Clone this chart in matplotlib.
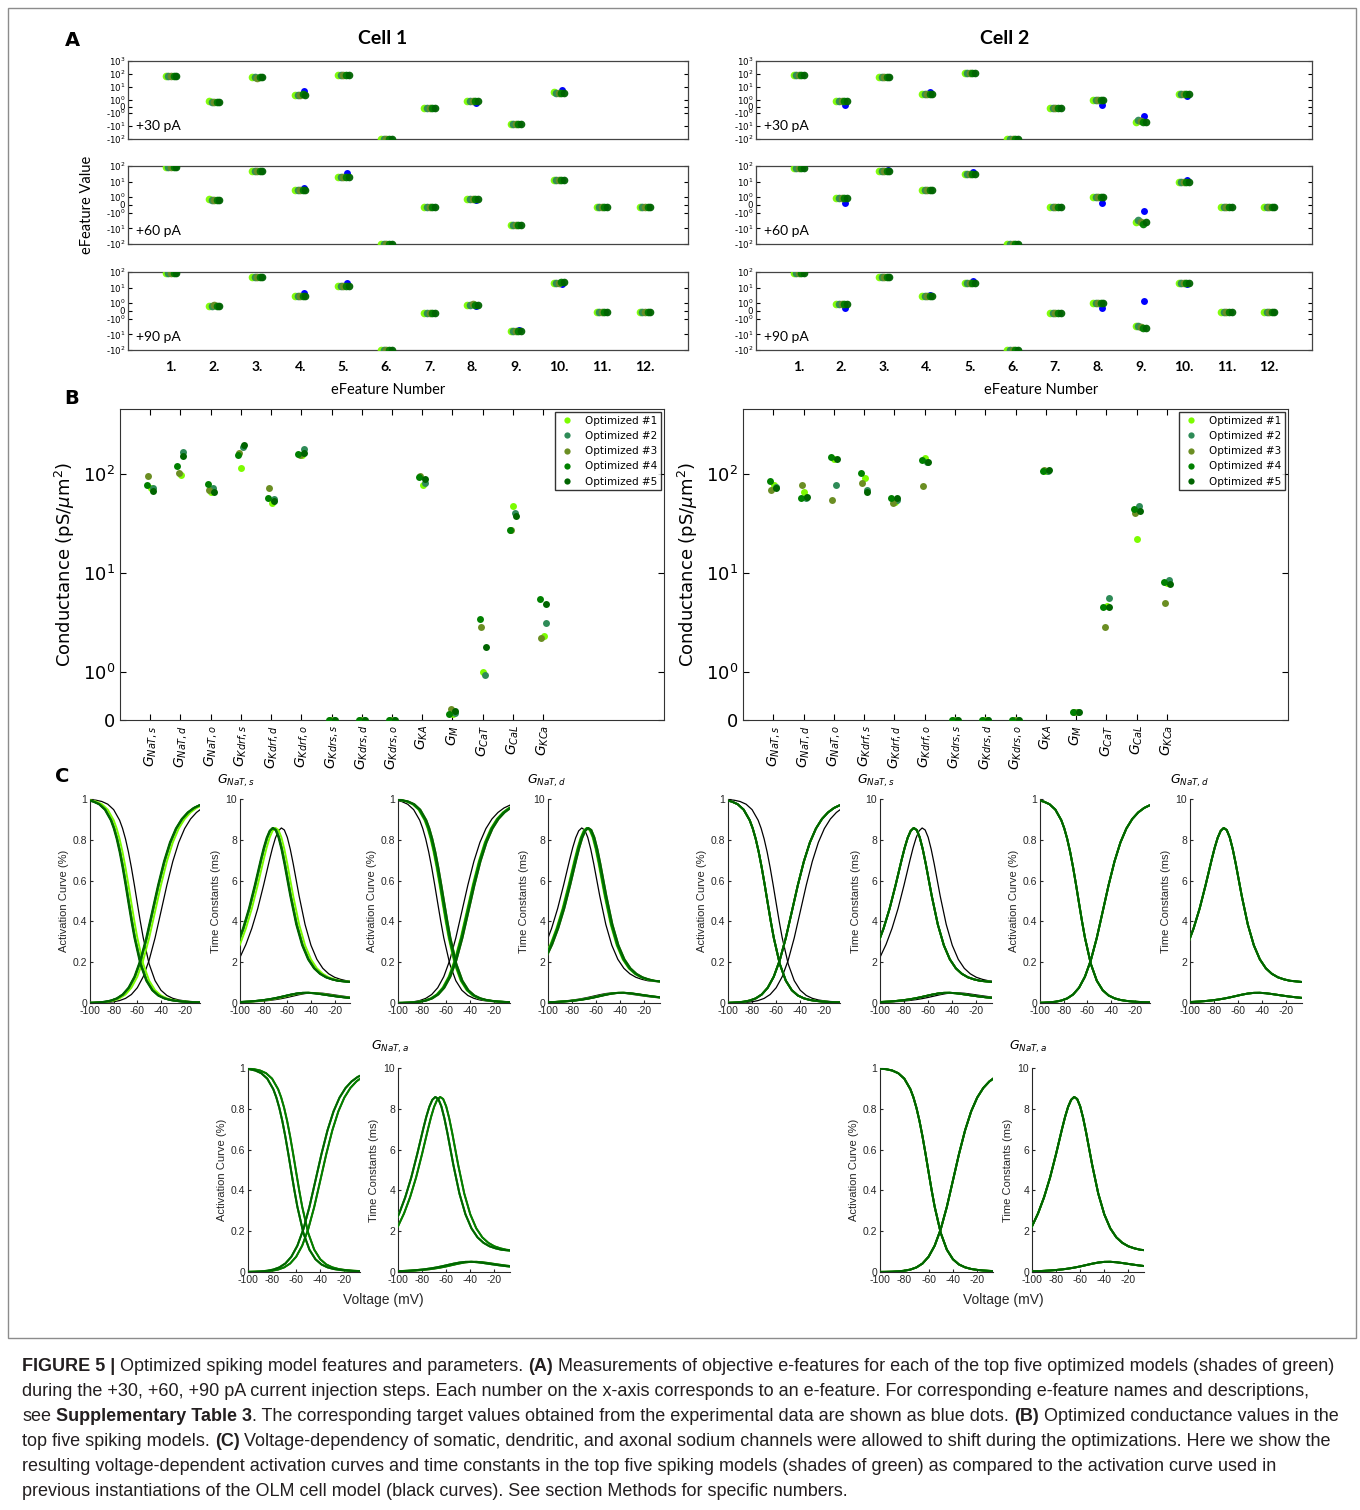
import numpy as np
import matplotlib
matplotlib.use('Agg')
import matplotlib.pyplot as plt
from matplotlib import font_manager as fm
from matplotlib.ticker import NullLocator
from matplotlib.patches import Rectangle

nan = np.nan

# ---------------- data ----------------
feature_labels = ['1.', '2.', '3.', '4.', '5.', '6.', '7.', '8.', '9.', '10.', '11.', '12.']
current_labels = ['+30 pA', '+60 pA', '+90 pA']
model_names = ['Optimized #1', 'Optimized #2', 'Optimized #3', 'Optimized #4', 'Optimized #5']

# panel A, cell 1: target (blue) and optimized models #1-#5
c1_p30_target = [75, 0.7, 60, 5, 80, -100, -0.3, 0.6, -7, 5.5, nan, nan]
c1_p30_models = [
    [75, 0.8, 55, 2.6, 85, -100, -0.3, 0.8, -7, 4.0, nan, nan],
    [75, 0.7, 55, 2.6, 85, -100, -0.3, 0.8, -7, 3.5, nan, nan],
    [72, 0.7, 52, 2.5, 80, -100, -0.3, 0.9, -7, 3.5, nan, nan],
    [75, 0.7, 55, 2.7, 85, -100, -0.3, 0.8, -7, 3.5, nan, nan],
    [72, 0.7, 55, 2.6, 80, -100, -0.3, 0.8, -7, 3.2, nan, nan],
]
c1_p60_target = [85, 0.6, 50, 4, 35, -100, -0.3, 0.6, -6, 12, -0.25, -0.25]
c1_p60_models = [
    [85, 0.8, 50, 2.8, 20, -100, -0.3, 0.8, -6, 12, -0.25, -0.25],
    [85, 0.7, 50, 2.8, 20, -100, -0.3, 0.8, -6, 12, -0.25, -0.25],
    [85, 0.7, 50, 2.7, 20, -100, -0.3, 0.8, -6, 12, -0.25, -0.25],
    [85, 0.7, 50, 2.8, 20, -100, -0.3, 0.8, -6, 12, -0.25, -0.25],
    [85, 0.7, 50, 2.8, 20, -100, -0.3, 0.8, -6, 12, -0.25, -0.25],
]
c1_p90_target = [90, 0.6, 50, 4.5, 20, -100, -0.3, 0.6, -5, 18, -0.1, -0.15]
c1_p90_models = [
    [90, 0.7, 50, 2.8, 13, -100, -0.3, 0.8, -6, 20, -0.1, -0.15],
    [90, 0.7, 50, 2.8, 13, -100, -0.3, 0.8, -6, 20, -0.1, -0.15],
    [90, 0.8, 50, 2.8, 13, -100, -0.25, 0.9, -6, 20, -0.1, -0.15],
    [90, 0.7, 50, 2.8, 13, -100, -0.3, 0.8, -6, 22, -0.1, -0.15],
    [90, 0.7, 50, 2.8, 13, -100, -0.3, 0.8, -6, 22, -0.1, -0.15],
]
# panel A, cell 2
c2_p30_target = [80, 0.3, 60, 4, 120, -100, -0.3, 0.3, -1.8, 2, nan, nan]
c2_p30_models = [
    [80, 0.8, 55, 3, 120, -100, -0.3, 1.0, -5, 3, nan, nan],
    [80, 0.8, 55, 3, 120, -100, -0.3, 1.0, -3.5, 3, nan, nan],
    [80, 0.8, 55, 3, 120, -100, -0.3, 1.0, -4, 3, nan, nan],
    [80, 0.9, 55, 3, 120, -100, -0.3, 1.0, -5, 3, nan, nan],
    [80, 0.9, 55, 3, 120, -100, -0.3, 1.0, -5, 3, nan, nan],
]
c2_p60_target = [80, 0.3, 55, 3, 40, -100, -0.3, 0.3, -0.8, 12, -0.25, -0.25]
c2_p60_models = [
    [75, 0.9, 50, 3, 30, -100, -0.3, 1.0, -4, 10, -0.25, -0.25],
    [75, 0.9, 50, 3, 30, -100, -0.3, 1.0, -3, 10, -0.25, -0.25],
    [75, 0.9, 50, 3, 30, -100, -0.3, 1.0, -4, 10, -0.25, -0.25],
    [75, 0.9, 50, 3, 30, -100, -0.3, 1.0, -5, 10, -0.25, -0.25],
    [75, 0.9, 50, 3, 30, -100, -0.3, 1.0, -4, 10, -0.25, -0.25],
]
c2_p90_target = [85, 0.4, 50, 3.5, 25, -100, -0.3, 0.4, 1.3, 18, -0.1, -0.15]
c2_p90_models = [
    [85, 0.9, 50, 3, 20, -100, -0.3, 1.0, -3, 20, -0.1, -0.15],
    [85, 0.9, 50, 3, 20, -100, -0.3, 1.0, -3, 20, -0.1, -0.15],
    [85, 0.9, 50, 3, 20, -100, -0.3, 1.0, -3.5, 20, -0.1, -0.15],
    [85, 0.9, 50, 3, 20, -100, -0.3, 1.0, -4, 20, -0.1, -0.15],
    [85, 0.9, 50, 3, 20, -100, -0.3, 1.0, -4, 20, -0.1, -0.15],
]

# panel B: conductances (pS/um^2), optimized models #1-#5
channels = [r'$G_{NaT,s}$', r'$G_{NaT,d}$', r'$G_{NaT,o}$', r'$G_{Kdrf,s}$', r'$G_{Kdrf,d}$',
            r'$G_{Kdrf,o}$', r'$G_{Kdrs,s}$', r'$G_{Kdrs,d}$', r'$G_{Kdrs,o}$', r'$G_{KA}$',
            r'$G_{M}$', r'$G_{CaT}$', r'$G_{CaL}$', r'$G_{KCa}$']
b_cell1 = [
    [72, 98, 66, 115, 50, 155, 0, 0, 0, 76, 0.12, 1.0, 47, 2.3],
    [72, 165, 72, 188, 55, 177, 0, 0, 0, 80, 0.15, 0.94, 40, 3.1],
    [94, 102, 68, 162, 72, 155, 0, 0, 0, 95, 0.22, 2.85, 27, 2.2],
    [77, 120, 78, 155, 57, 159, 0, 0, 0, 92, 0.12, 3.4, 27, 5.4],
    [67, 150, 66, 196, 53, 162, 0, 0, 0, 88, 0.19, 1.77, 37, 4.8],
]
b_cell2 = [
    [76, 65, 139, 90, 52, 144, 0, 0, 0, 107, 0.17, 4.6, 22, 7.8],
    [73, 57, 77, 69, 54, 132, 0, 0, 0, 107, 0.17, 5.5, 47, 8.4],
    [68, 76, 54, 81, 50, 75, 0, 0, 0, 110, 0.17, 2.8, 40, 4.9],
    [84, 57, 148, 101, 57, 136, 0, 0, 0, 107, 0.17, 4.5, 44, 8.0],
    [72, 58, 142, 66, 57, 132, 0, 0, 0, 108, 0.17, 4.5, 42, 7.6],
]

# panel C: reference sodium kinetics
v_m = [-110, -105, -100, -95, -90, -85, -80, -75, -70, -65, -60, -55, -50, -45, -40,
       -35, -30, -25, -20, -15, -10, -5, 0, 5]
m_inf = [0.0001, 0.0002, 0.0004, 0.0008, 0.0016, 0.0032, 0.0062, 0.0119, 0.0225, 0.0417,
         0.0749, 0.129, 0.210, 0.319, 0.448, 0.578, 0.694, 0.787, 0.855, 0.902, 0.934,
         0.956, 0.970, 0.979]
tau_m = [0.018, 0.024, 0.032, 0.042, 0.056, 0.073, 0.097, 0.127, 0.166, 0.214, 0.273,
         0.340, 0.407, 0.463, 0.496, 0.500, 0.478, 0.440, 0.396, 0.353, 0.313, 0.279,
         0.250, 0.225]
v_h = [-110, -105, -100, -95, -90, -85, -80, -75, -72.5, -70, -67.5, -65, -62.5, -60,
       -57.5, -55, -50, -45, -40, -35, -30, -25, -20, -15, -10, -5, 0, 5]
h_inf = [0.9994, 0.9987, 0.9972, 0.9942, 0.9878, 0.9746, 0.9478, 0.8962, 0.8564, 0.8046,
         0.7402, 0.6639, 0.5786, 0.4890, 0.401, 0.3199, 0.1912, 0.1095, 0.0626, 0.0369,
         0.0229, 0.0149, 0.0103, 0.0073, 0.0054, 0.0041, 0.0031, 0.0024]
tau_h = [1.36, 1.75, 2.24, 2.87, 3.66, 4.63, 5.79, 7.03, 7.61, 8.10, 8.44, 8.58, 8.48,
         8.12, 7.54, 6.82, 5.24, 3.85, 2.83, 2.14, 1.70, 1.43, 1.26, 1.16, 1.09, 1.06,
         1.03, 1.02]
# voltage shifts (mV) of the black reference and of optimized #1-#5
nats_ref_shift = 0
nats_c1_shifts = [-5, -7, -7, -7, -7.5]
nats_c2_shifts = [-7, -7, -7, -7, -7]
natd_ref_shift = -7
natd_c1_shifts = [-3, -2.5, -1.5, -2.5, -1.5]
natd_c2_shifts = [-7, -7, -7, -7, -7]
nata_ref_shift = 0
nata_c1_shifts = [-4, -4, 0, 0, -4]
nata_c2_shifts = [0, 0, 0, 0, 0]

# ---------------- style ----------------
model_colors = ['#7cfc00', '#2e8b57', '#6b8e23', '#008000', '#006400']
target_color = '#0000ff'
a_offsets = [-0.12, -0.06, 0.0, 0.06, 0.12]
b_offsets = [0.02, 0.08, -0.06, -0.1, 0.1]

W, H = 1360, 1510
fig = plt.figure(figsize=(W / 100, H / 100), dpi=100)
fig.patch.set_facecolor('white')


def px_axes(x0, y0, x1, y1):
    return fig.add_axes([x0 / W, 1 - y1 / H, (x1 - x0) / W, (y1 - y0) / H])


def fig_text(x, y, s, **kw):
    return fig.text(x / W, 1 - y / H, s, **kw)


fig.add_artist(Rectangle((8 / W, 1 - 1338 / H), (1356 - 8) / W, (1338 - 8) / H,
                         transform=fig.transFigure, fill=False, ec='#8c8c8c', lw=1.0))

lab_font = 'Lato'

# ---------------- panel A ----------------
fig_text(72, 40, 'A', fontsize=14, fontweight='bold', ha='center', va='center')
fig_text(383, 39, 'Cell 1', fontsize=14, fontweight='bold', ha='center', va='center', family=lab_font)
fig_text(1005, 39, 'Cell 2', fontsize=14, fontweight='bold', ha='center', va='center', family=lab_font)

a_rows = [(61, 139), (166, 244), (272, 350)]
a_cols = [(128, 688), (756, 1312)]
a_xlabel_x = [388, 1041]
a_data = [
    [(c1_p30_target, c1_p30_models), (c1_p60_target, c1_p60_models), (c1_p90_target, c1_p90_models)],
    [(c2_p30_target, c2_p30_models), (c2_p60_target, c2_p60_models), (c2_p90_target, c2_p90_models)],
]
xf = np.arange(1, len(feature_labels) + 1)
for ci, (x0, x1) in enumerate(a_cols):
    for ri, (y0, y1) in enumerate(a_rows):
        ax = px_axes(x0, y0, x1, y1)
        target, models = a_data[ci][ri]
        ax.plot(xf + 0.08, target, 'o', color=target_color, ms=5, mec='none', zorder=2)
        for k, vals in enumerate(models):
            ax.plot(xf + a_offsets[k], vals, 'o', color=model_colors[k], ms=5.5, mec='none',
                    alpha=0.95, zorder=3)
        ax.set_yscale('symlog', linthresh=1, linscale=0.45)
        if ri == 0:
            ax.set_ylim(-100, 1000)
            ticks = [1000, 100, 10, 1, 0, -1, -10, -100]
            labels = [r'$10^3$', r'$10^2$', r'$10^1$', r'$10^0$', '0', r'-$10^0$', r'-$10^1$', r'-$10^2$']
        else:
            ax.set_ylim(-100, 100)
            ticks = [100, 10, 1, 0, -1, -10, -100]
            labels = [r'$10^2$', r'$10^1$', r'$10^0$', '0', r'-$10^0$', r'-$10^1$', r'-$10^2$']
        ax.set_yticks(ticks)
        ax.set_yticklabels(labels)
        ax.yaxis.set_minor_locator(NullLocator())
        ax.set_xlim(0, 13)
        ax.set_xticks(xf)
        ax.tick_params(axis='y', direction='in', right=True, length=3, labelsize=6.2, pad=2)
        ax.tick_params(axis='x', direction='in', top=False, length=0)
        if ri == 2:
            ax.set_xticklabels(feature_labels, fontsize=10, fontweight='bold', family=lab_font)
            ax.tick_params(axis='x', pad=8)
        else:
            ax.set_xticklabels([])
        for sp in ax.spines.values():
            sp.set_color('#444444')
            sp.set_linewidth(0.9)
        ax.text(0.015, 0.17, current_labels[ri], transform=ax.transAxes, fontsize=10,
                family=lab_font, ha='left', va='center')
    fig_text(a_xlabel_x[ci], 390, 'eFeature Number', fontsize=10.5, family=lab_font,
             ha='center', va='center')
fig_text(87, 205, 'eFeature Value', fontsize=10.5, family=lab_font, rotation=90,
         ha='center', va='center')

# ---------------- panel B ----------------
fig_text(72, 398, 'B', fontsize=14, fontweight='bold', ha='center', va='center')
b_cols = [(120, 664), (743, 1288)]
xc = np.arange(1, len(channels) + 1)
for ci, (x0, x1) in enumerate(b_cols):
    ax = px_axes(x0, 409, x1, 720)
    cell = [b_cell1, b_cell2][ci]
    for k, vals in enumerate(cell):
        ax.plot(xc + b_offsets[k], vals, 'o', color=model_colors[k], ms=5, mec='none',
                label=model_names[k], zorder=3)
    ax.set_yscale('symlog', linthresh=1, linscale=0.44)
    ax.set_ylim(0, 450)
    ax.set_yticks([0, 1, 10, 100])
    ax.set_yticklabels(['0', r'$10^0$', r'$10^1$', r'$10^2$'])
    ax.yaxis.set_minor_locator(NullLocator())
    ax.set_xlim(0, 18)
    ax.set_xticks(xc)
    ax.set_xticklabels(channels, rotation=90, fontsize=10)
    ax.tick_params(direction='in', top=True, right=True, length=4, labelsize=13)
    ax.tick_params(axis='x', labelsize=10)
    ax.set_ylabel(r'Conductance (pS/$\mu$m$^2$)', fontsize=13)
    for sp in ax.spines.values():
        sp.set_color('#333333')
    leg = ax.legend(loc='upper right', fontsize=7.5, frameon=True, fancybox=False,
                    borderaxespad=0.3, handletextpad=0.9, markerscale=0.9, numpoints=1,
                    borderpad=0.35, labelspacing=0.5, handlelength=1.6)
    leg.get_frame().set_edgecolor('black')
    leg.get_frame().set_linewidth(1.0)

# ---------------- panel C ----------------
fig_text(62, 776, 'C', fontsize=14, fontweight='bold', ha='center', va='center')
c_font = 'Liberation Sans'


def c_pair(act_box, tau_box, ref_shift, shifts, title, title_xy, xlabel_xy=None):
    axa = px_axes(*act_box)
    axt = px_axes(*tau_box)
    ref_x_m = np.array(v_m) + ref_shift
    ref_x_h = np.array(v_h) + ref_shift
    axa.plot(ref_x_m, m_inf, color='black', lw=0.9, zorder=2)
    axa.plot(ref_x_h, h_inf, color='black', lw=0.9, zorder=2)
    axt.plot(ref_x_m, tau_m, color='black', lw=0.9, zorder=2)
    axt.plot(ref_x_h, tau_h, color='black', lw=0.9, zorder=2)
    for k, s in enumerate(shifts):
        xm = np.array(v_m) + s
        xh = np.array(v_h) + s
        axa.plot(xm, m_inf, color=model_colors[k], lw=1.4, zorder=3)
        axa.plot(xh, h_inf, color=model_colors[k], lw=1.4, zorder=3)
        axt.plot(xm, tau_m, color=model_colors[k], lw=1.4, zorder=3)
        axt.plot(xh, tau_h, color=model_colors[k], lw=1.4, zorder=3)
    for ax, top, step, lab in [(axa, 1, 0.2, 'Activation Curve (%)'), (axt, 10, 2, 'Time Constants (ms)')]:
        ax.set_xlim(-100, -7)
        ax.set_ylim(0, top)
        yt = np.arange(0, top + step / 2, step)
        ax.set_yticks(yt)
        ax.set_yticklabels(['%g' % v for v in yt], family=c_font)
        ax.set_xticks([-100, -80, -60, -40, -20])
        ax.set_xticklabels(['-100', '-80', '-60', '-40', '-20'], family=c_font)
        ax.tick_params(direction='in', length=2.5, labelsize=7.5, pad=2, colors='#262626')
        ax.spines['top'].set_visible(False)
        ax.spines['right'].set_visible(False)
        ax.spines['left'].set_color('#262626')
        ax.spines['bottom'].set_color('#262626')
        ax.set_ylabel(lab, fontsize=8, family=c_font, color='#262626', labelpad=3)
    fig_text(title_xy[0], title_xy[1], title, fontsize=9, ha='left', va='center')
    if xlabel_xy is not None:
        fig_text(xlabel_xy[0], xlabel_xy[1], 'Voltage (mV)', fontsize=10, family=c_font,
                 ha='center', va='center', color='#262626')


row1 = (799, 1003)
row2 = (1068, 1272)
c_pair((90, row1[0], 200, row1[1]), (240, row1[0], 350, row1[1]),
       nats_ref_shift, nats_c1_shifts, r'$G_{NaT,s}$', (217, 781))
c_pair((398, row1[0], 510, row1[1]), (548, row1[0], 660, row1[1]),
       natd_ref_shift, natd_c1_shifts, r'$G_{NaT,d}$', (527, 781))
c_pair((728, row1[0], 840, row1[1]), (880, row1[0], 992, row1[1]),
       nats_ref_shift, nats_c2_shifts, r'$G_{NaT,s}$', (857, 781))
c_pair((1040, row1[0], 1150, row1[1]), (1190, row1[0], 1302, row1[1]),
       natd_ref_shift, natd_c2_shifts, r'$G_{NaT,d}$', (1170, 781))
c_pair((248, row2[0], 360, row2[1]), (398, row2[0], 510, row2[1]),
       nata_ref_shift, nata_c1_shifts, r'$G_{NaT,a}$', (371, 1047), (383, 1300))
c_pair((880, row2[0], 993, row2[1]), (1032, row2[0], 1144, row2[1]),
       nata_ref_shift, nata_c2_shifts, r'$G_{NaT,a}$', (1009, 1047), (1003, 1300))

# ---------------- caption ----------------
names = {f.name for f in fm.fontManager.ttflist}
cap_font = 'Liberation Sans Narrow' if 'Liberation Sans Narrow' in names else 'Liberation Sans'
caption_lines = [
    [('FIGURE 5 |', True), (' Optimized spiking model features and parameters. ', False), ('(A)', True),
     (' Measurements of objective e-features for each of the top five optimized models (shades of green)', False)],
    [('during the +30, +60, +90 pA current injection steps. Each number on the x-axis corresponds to an e-feature. For corresponding e-feature names and descriptions,', False)],
    [('see ', False), ('Supplementary Table 3', True),
     ('. The corresponding target values obtained from the experimental data are shown as blue dots. ', False),
     ('(B)', True), (' Optimized conductance values in the', False)],
    [('top five spiking models. ', False), ('(C)', True),
     (' Voltage-dependency of somatic, dendritic, and axonal sodium channels were allowed to shift during the optimizations. Here we show the', False)],
    [('resulting voltage-dependent activation curves and time constants in the top five spiking models (shades of green) as compared to the activation curve used in', False)],
    [('previous instantiations of the OLM cell model (black curves). See section Methods for specific numbers.', False)],
]
renderer = fig.canvas.get_renderer()


def text_width(s, fs, bold):
    t = fig.text(0, 0, s, fontsize=fs, family=cap_font, fontweight='bold' if bold else 'normal')
    w = t.get_window_extent(renderer).width
    t.remove()
    return w


base_fs = 12
space_w = text_width('x x', base_fs, False) - text_width('xx', base_fs, False)
line1_w = 0
for s, b in caption_lines[0]:
    line1_w += text_width(s.strip(), base_fs, b) + space_w * (len(s) - len(s.lstrip()) + len(s) - len(s.rstrip()))
cap_fs = base_fs * 1312 / line1_w
space_w = text_width('x x', cap_fs, False) - text_width('xx', cap_fs, False)

for li, segs in enumerate(caption_lines):
    x = 22.0
    y = 1371 + li * 25
    for s, b in segs:
        lead = len(s) - len(s.lstrip())
        trail = len(s) - len(s.rstrip())
        x += lead * space_w
        core = s.strip()
        t = fig_text(x, y, core, fontsize=cap_fs, family=cap_font,
                     fontweight='bold' if b else 'normal', color='#231f20', ha='left', va='baseline')
        x += t.get_window_extent(renderer).width + trail * space_w

fig.savefig('out.png', dpi=100)
